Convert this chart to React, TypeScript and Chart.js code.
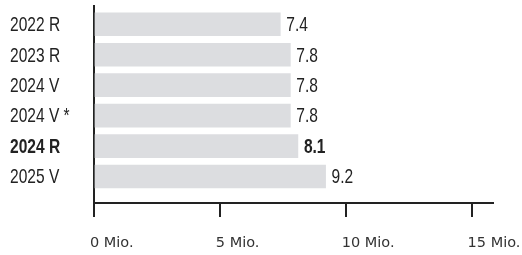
import { useEffect, useRef } from "react";
import { Chart, registerables } from "chart.js";
Chart.register(...registerables);

const categories = ["2022 R", "2023 R", "2024 V", "2024 V *", "2024 R", "2025 V"];
const values = [7.4, 7.8, 7.8, 7.8, 8.1, 9.2];
const boldIndex = 4;
const xTicks = [0, 5, 10, 15];
const xTickUnit = " Mio.";

export default function App() {
  const ref = useRef<HTMLCanvasElement>(null);
  useEffect(() => {
    document.body.style.margin = "0";
    const family = "'Liberation Sans', Arial, sans-serif";
    const squeeze = 0.74;
    const drawCondensed = (ctx: any, text: string, x: number, y: number, bold: boolean) => {
      ctx.save();
      ctx.font = `${bold ? "bold " : ""}21px ${family}`;
      ctx.textBaseline = "middle";
      ctx.textAlign = "left";
      ctx.fillStyle = "#222";
      ctx.translate(x, y);
      ctx.scale(squeeze, 1);
      ctx.fillText(text, 0, 0);
      ctx.restore();
    };
    const labelsPlugin = {
      id: "condensedLabels",
      afterDraw(chart: any) {
        const ctx = chart.ctx;
        const yScale = chart.scales.y;
        const meta = chart.getDatasetMeta(0);
        categories.forEach((c, i) => {
          drawCondensed(ctx, c, yScale.left, yScale.getPixelForValue(i) + 1, i === boldIndex);
        });
        meta.data.forEach((el: any, i: number) => {
          drawCondensed(ctx, values[i].toFixed(1), el.x + 6, el.y + 1, i === boldIndex);
        });
      },
    };
    const chart = new Chart(ref.current as HTMLCanvasElement, {
      type: "bar",
      data: {
        datasets: [
          {
            data: values.map((v, i) => ({ x: v, y: i })) as any,
            backgroundColor: "#dcdde0",
            barThickness: 23,
            borderWidth: 0,
          },
        ],
      },
      plugins: [labelsPlugin],
      options: {
        indexAxis: "y",
        animation: false,
        responsive: false,
        maintainAspectRatio: false,
        layout: { padding: { left: 10, right: 29, top: 6, bottom: 0 } },
        plugins: { legend: { display: false }, tooltip: { enabled: false } },
        scales: {
          x: {
            type: "linear",
            min: 0,
            max: 15.85,
            offset: false,
            afterBuildTicks: (s: any) => {
              s.ticks = xTicks.map((v) => ({ value: v }));
            },
            afterFit: (s: any) => {
              s.height = 52;
              s.paddingLeft = 0;
              s.paddingRight = 0;
            },
            grid: { display: true, offset: false, drawOnChartArea: false, drawTicks: true, tickLength: 14, color: "#222", lineWidth: 2 },
            border: { display: true, color: "#222", width: 2 },
            ticks: {
              align: "start",
              labelOffset: -4,
              padding: 18,
              color: "#333",
              font: { family: "'DejaVu Sans', sans-serif", size: 14.5 },
              callback: (v: any) => `${v}${xTickUnit}`,
            },
          },
          y: {
            type: "linear",
            reverse: true,
            offset: false,
            bounds: "data",
            min: -0.6,
            max: 5.87,
            afterBuildTicks: (s: any) => {
              s.ticks = categories.map((_, i) => ({ value: i }));
            },
            afterFit: (s: any) => {
              s.width = 84;
              s.paddingTop = 0;
              s.paddingBottom = 0;
            },
            grid: { display: false, offset: false },
            border: { display: true, color: "#222", width: 2 },
            ticks: { display: false },
          },
        } as any,
      },
    });
    return () => chart.destroy();
  }, []);
  return (
    <div style={{ width: 522, height: 255 }}>
      <canvas ref={ref} width={522} height={255} style={{ display: "block" }} />
    </div>
  );
}
